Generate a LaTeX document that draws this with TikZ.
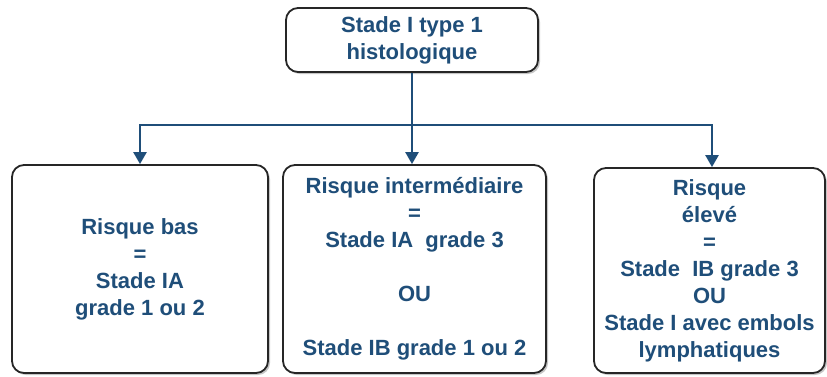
\documentclass[tikz,border=0pt]{standalone}
\usepackage{fontspec}
\setmainfont{Liberation Sans}
\usepackage{xcolor}
\usetikzlibrary{arrows.meta, shadows, positioning}

\definecolor{stadeblue}{HTML}{1F4E79}

\tikzset{
    stadebox/.style={draw=black!85, line width=1.8pt, rounded corners=12pt, fill=white,
        drop shadow={shadow xshift=2pt, shadow yshift=-2pt, fill=black!45},
        align=center, inner sep=0pt, text=stadeblue,
        font=\fontsize{22}{27}\selectfont\bfseries},
    branch/.style={draw=stadeblue, line width=2.4pt, -{Triangle[width=13pt,length=12pt]}}
}

\begin{document}
\begin{tikzpicture}[x=1pt, y=-1pt]
                            \useasboundingbox (0, 0) rectangle (827, 376);

                            \node[stadebox, minimum width=252pt, minimum height=64pt] (stade) at (412, 40) {Stade I type 1\\histologique};
                            \node[stadebox, minimum width=256pt, minimum height=208pt] (bas) at (140, 269) {Risque bas\\=\\Stade IA\\grade 1 ou 2};
                            \node[stadebox, minimum width=263pt, minimum height=208pt] (inter) at (414.5, 269) {Risque intermédiaire\\=\\Stade IA~ grade 3\\[27pt]OU\\[27pt]Stade IB grade 1 ou 2};
                            \node[stadebox, minimum width=231pt, minimum height=205pt] (eleve) at (709.5, 270.5) {Risque\\élevé\\=\\Stade~ IB grade 3\\OU\\Stade I avec embols\\lymphatiques};
                            \coordinate (split) at (412, 125);

                            \draw[branch] (stade.south) -- (stade.south |- inter.north);
                            \draw[branch] (split) -| (bas.north);
                            \draw[branch] (split) -| ([xshift=2.5pt]eleve.north);
                        \end{tikzpicture}
\end{document}
